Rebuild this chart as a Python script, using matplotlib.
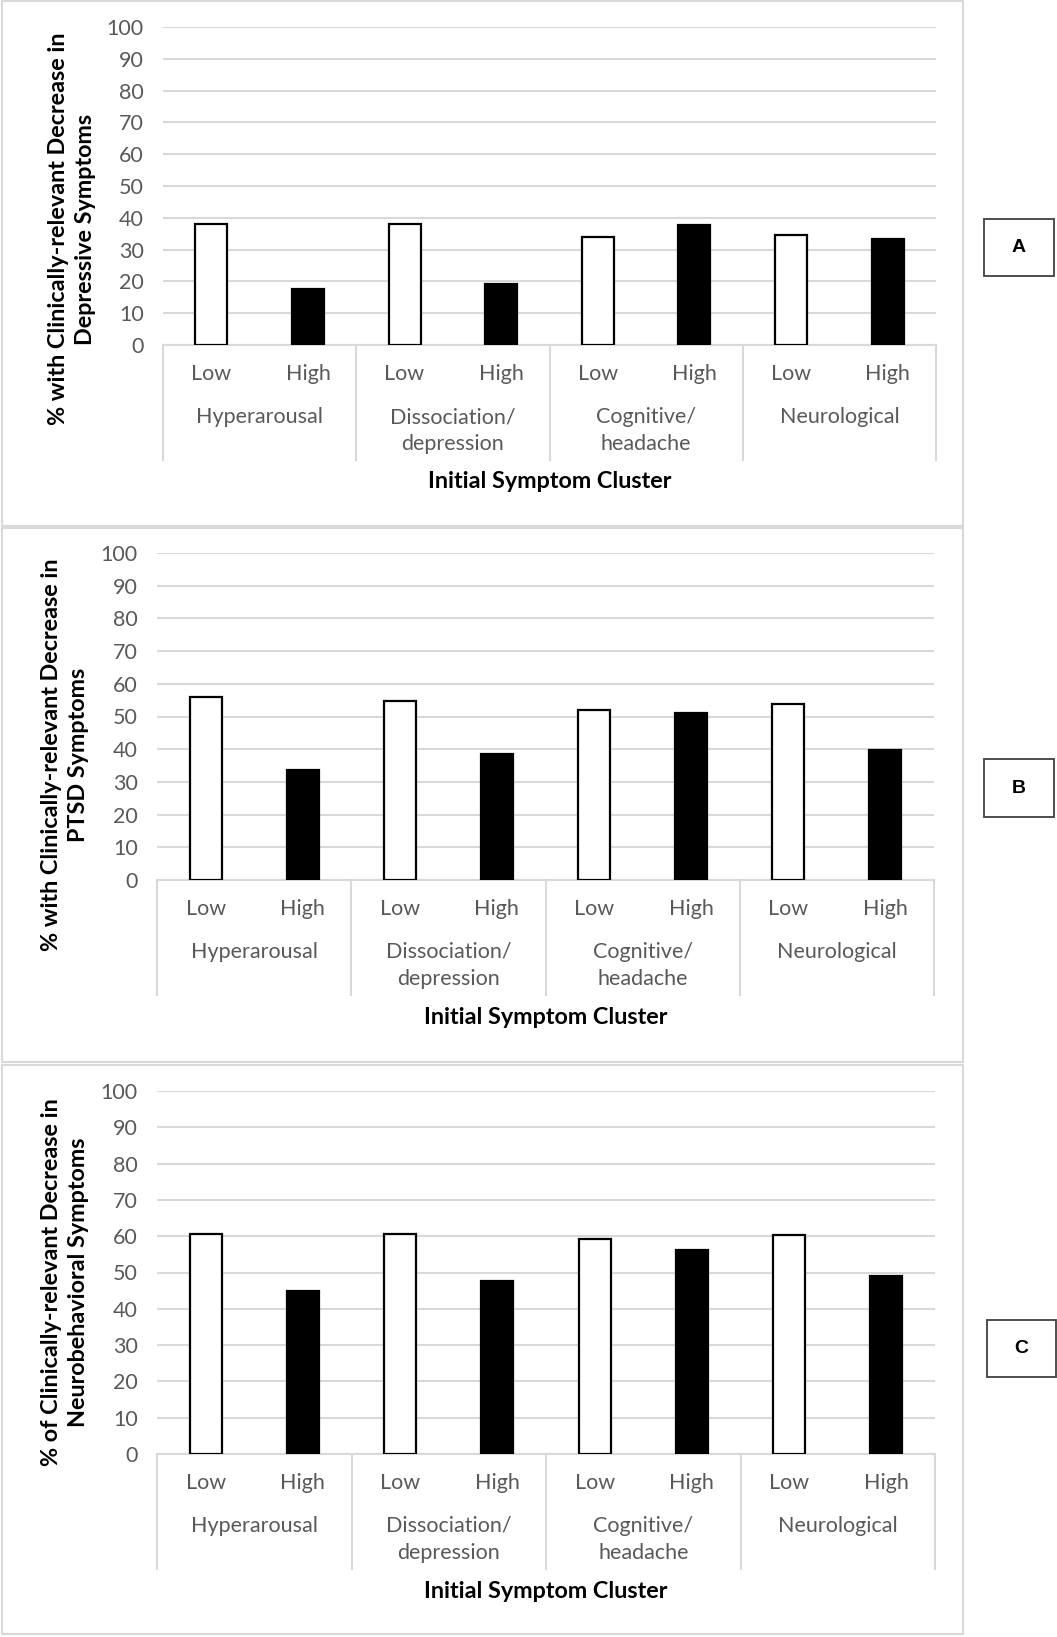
import matplotlib
matplotlib.use("Agg")
import matplotlib.pyplot as plt
from matplotlib.patches import Rectangle
from matplotlib.transforms import offset_copy

# data
clusters = ['Hyperarousal', 'Dissociation/\ndepression', 'Cognitive/\nheadache', 'Neurological']
levels = ['Low', 'High']
depressive_low = [37.9, 38.1, 34.1, 34.6]
depressive_high = [17.7, 19.3, 37.6, 33.3]
ptsd_low = [56.1, 54.8, 52.0, 53.7]
ptsd_high = [33.5, 38.4, 51.2, 39.9]
neuro_low = [60.7, 60.6, 59.1, 60.2]
neuro_high = [44.9, 47.6, 56.1, 48.9]
y_labels = ['% with Clinically-relevant Decrease in\nDepressive Symptoms',
            '% with Clinically-relevant Decrease in\nPTSD Symptoms',
            '% of Clinically-relevant Decrease in\nNeurobehavioral Symptoms']
panel_letters = ['A', 'B', 'C']
x_title = 'Initial Symptom Cluster'

W, H = 1057, 1637
fig = plt.figure(figsize=(W / 100, H / 100), dpi=100)

FONT = 'Lato'
GRID = '#d9d9d9'
TXT = '#595959'

# pixel layouts: axes box, frame box, ylabel x/y, letter box
panels = [
    dict(ax=(163, 27, 936, 345), frame=(2, 1, 963, 526), ylab=(72, 229), box=(984, 219, 1054, 276)),
    dict(ax=(157, 553, 934, 880), frame=(2, 528, 963, 1062), ylab=(65, 755), box=(984, 759, 1054, 817)),
    dict(ax=(157, 1091, 935, 1454), frame=(2, 1065, 963, 1634), ylab=(65, 1282), box=(987, 1320, 1056, 1377)),
]
series = [(depressive_low, depressive_high), (ptsd_low, ptsd_high), (neuro_low, neuro_high)]


def fx(px):
    return px / W


def fy(py):
    return 1 - py / H


for i, p in enumerate(panels):
    low_vals, high_vals = series[i]
    x0, y0, x1, y1 = p['ax']
    ax = fig.add_axes([fx(x0), fy(y1), fx(x1) - fx(x0), fy(y0) - fy(y1)])

    # frame around the panel
    f0, g0, f1, g1 = p['frame']
    fig.add_artist(Rectangle((fx(f0), fy(g1)), fx(f1) - fx(f0), fy(g0) - fy(g1),
                             transform=fig.transFigure, fill=False, edgecolor=GRID, lw=1.5))

    xs = []
    heights = []
    for k in range(len(clusters)):
        xs += [2 * k, 2 * k + 1]
        heights += [low_vals[k], high_vals[k]]
    colors = ['white', 'black'] * len(clusters)
    ax.bar(xs, heights, width=0.33, color=colors, edgecolor='black', linewidth=1.6, zorder=3)

    ax.set_xlim(-0.5, 2 * len(clusters) - 0.5)
    ax.set_ylim(0, 100)
    ax.set_yticks(range(0, 101, 10))
    ax.tick_params(axis='y', length=0, pad=14, labelsize=15.5, labelcolor=TXT)
    for lab in ax.get_yticklabels():
        lab.set_fontfamily(FONT)
    ax.set_xticks([])
    ax.grid(axis='y', color=GRID, lw=1.5, zorder=0)
    for s in ['top', 'right', 'left']:
        ax.spines[s].set_visible(False)
    ax.spines['bottom'].set_color(GRID)
    ax.spines['bottom'].set_linewidth(1.5)

    # category labels below the axis
    xt = ax.get_xaxis_transform()
    t_low = offset_copy(xt, fig=fig, y=-29, units='dots')
    t_grp = offset_copy(xt, fig=fig, y=-62, units='dots')
    for j, x in enumerate(xs):
        ax.text(x, 0, levels[j % 2], transform=t_low, ha='center', va='center',
                fontsize=15.5, color=TXT, family=FONT)
    for k, name in enumerate(clusters):
        ax.text(2 * k + 0.5, 0, name, transform=t_grp, ha='center', va='top',
                fontsize=15.5, color=TXT, family=FONT, linespacing=1.42)
    sep_bottom = -115 / (y1 - y0)
    for k in range(len(clusters) + 1):
        ax.plot([2 * k - 0.5, 2 * k - 0.5], [0, sep_bottom], transform=xt,
                color=GRID, lw=1.5, clip_on=False)

    fig.text(fx((x0 + x1) / 2), fy(y1 + 137), x_title, ha='center', va='center',
             fontsize=16.8, fontweight='bold', family=FONT)

    lx, ly = p['ylab']
    fig.text(fx(lx), fy(ly), y_labels[i], rotation=90, ha='center', va='center',
             fontsize=16.8, fontweight='bold', family=FONT, linespacing=1.35, multialignment='center')

    b0, c0, b1, c1 = p['box']
    fig.add_artist(Rectangle((fx(b0), fy(c1)), fx(b1) - fx(b0), fy(c0) - fy(c1),
                             transform=fig.transFigure, fill=False, edgecolor='#404040', lw=1.3))
    fig.text(fx((b0 + b1) / 2), fy((c0 + c1) / 2), panel_letters[i], ha='center', va='center',
             fontsize=14, fontweight='bold', family='Liberation Sans')

fig.savefig('out.png', dpi=100)
